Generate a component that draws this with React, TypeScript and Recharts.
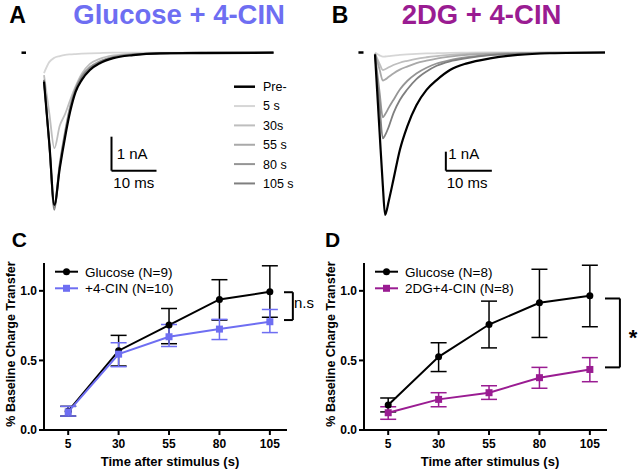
import React from "react";
import { LineChart, Line, XAxis, YAxis, ReferenceLine, ErrorBar } from "recharts";

const FONT = '"Liberation Sans", Arial, sans-serif';

// ---- panel A traces (time in ms, current in nA) ----
const timeA = [0, 1.2, 2.3, 3.5, 4.7, 5.8, 7, 8.4, 10.2, 12.4, 15.4, 19.8, 25.8, 35, 51];
const preA = [-0.85, -2.7, -4.48, -3.4, -2.47, -1.74, -1.16, -0.8, -0.51, -0.31, -0.16, -0.07, -0.02, -0.01, 0];
const s5A = [-0.6, -0.27, -0.15, -0.1, -0.065, -0.05, -0.04, -0.03, -0.02, -0.01, 0, 0, 0, 0, 0];
const s30A = [-0.66, -1.8, -2.81, -2.15, -1.8, -1.4, -1.0, -0.62, -0.33, -0.18, -0.08, -0.03, -0.01, 0, 0];
const s55A = [-0.8, -2.7, -4.45, -3.25, -2.3, -1.58, -1.05, -0.68, -0.42, -0.25, -0.12, -0.05, -0.02, 0, 0];
const s80A = [-0.8, -2.75, -4.55, -3.3, -2.35, -1.62, -1.08, -0.7, -0.44, -0.26, -0.13, -0.05, -0.02, 0, 0];
const s105A = [-0.8, -2.75, -4.62, -3.35, -2.4, -1.66, -1.1, -0.73, -0.46, -0.28, -0.14, -0.06, -0.02, 0, 0];

// ---- panel B traces ----
const timeB = [0, 1.0, 1.7, 2.2, 3, 4, 5.4, 7, 9, 11.2, 13.4, 16.3, 20, 25, 31, 38, 50];
const preB = [-0.1, -4.2, -7.0, -8.55, -7.8, -6.7, -5.13, -3.9, -2.78, -1.97, -1.45, -0.92, -0.57, -0.31, -0.13, -0.04, 0];
const s5B = [0, -0.15, -0.22, -0.21, -0.19, -0.16, -0.13, -0.1, -0.07, -0.05, -0.04, -0.02, -0.01, 0, 0, 0, 0];
const s30B = [-0.05, -0.6, -0.92, -0.88, -0.78, -0.66, -0.54, -0.44, -0.33, -0.25, -0.19, -0.13, -0.08, -0.04, -0.02, -0.01, 0];
const s55B = [-0.05, -0.9, -1.48, -1.42, -1.28, -1.1, -0.9, -0.74, -0.56, -0.43, -0.32, -0.22, -0.13, -0.07, -0.03, -0.01, 0];
const s80B = [-0.1, -2.1, -3.41, -3.25, -2.9, -2.5, -1.95, -1.5, -1.1, -0.8, -0.58, -0.4, -0.25, -0.12, -0.06, -0.02, 0];
const s105B = [-0.1, -2.8, -4.52, -4.35, -3.9, -3.2, -2.5, -1.95, -1.4, -1.0, -0.7, -0.47, -0.3, -0.14, -0.07, -0.03, 0];

const traceLabels = ["Pre-", "5 s", "30s", "55 s", "80 s", "105 s"];
const traceKeys = ["pre", "s5", "s30", "s55", "s80", "s105"];
const traceColors = ["#000000", "#d6d6d6", "#bebebe", "#a9a9a9", "#959595", "#7f7f7f"];

// ---- panels C / D: fraction of baseline charge transfer ----
const timePoints = [5, 30, 55, 80, 105];
const timeTicks = [5, 30, 55, 80, 105];
const yTicks = [0, 0.5, 1.0];

const gluC = [0.135, 0.57, 0.754, 0.938, 0.993];
const gluCLo = [0.1, 0.46, 0.62, 0.79, 0.81];
const gluCHi = [0.17, 0.68, 0.873, 1.08, 1.18];
const cinC = [0.13, 0.545, 0.67, 0.725, 0.778];
const cinCLo = [0.1, 0.455, 0.6, 0.65, 0.7];
const cinCHi = [0.17, 0.627, 0.758, 0.795, 0.866];

const gluD = [0.18, 0.526, 0.758, 0.914, 0.964];
const gluDLo = [0.13, 0.42, 0.59, 0.665, 0.742];
const gluDHi = [0.23, 0.627, 0.926, 1.155, 1.184];
const dgD = [0.124, 0.22, 0.268, 0.376, 0.435];
const dgDLo = [0.077, 0.167, 0.22, 0.3, 0.347];
const dgDHi = [0.167, 0.268, 0.318, 0.45, 0.52];

const BLUE = "#6e6ef2";
const PURPLE = "#9a1c92";

function traceRows(time: number[], series: number[][]) {
  return time.map((t, i) => {
    const row: Record<string, number> = { t };
    traceKeys.forEach((k, j) => (row[k] = series[j][i]));
    return row;
  });
}

const rowsA = traceRows(timeA, [preA, s5A, s30A, s55A, s80A, s105A]);
const rowsB = traceRows(timeB, [preB, s5B, s30B, s55B, s80B, s105B]);

function statRows(m1: number[], lo1: number[], hi1: number[], m2: number[], lo2: number[], hi2: number[]) {
  return timePoints.map((time, i) => ({
    time,
    a: m1[i],
    aErr: [m1[i] - lo1[i], hi1[i] - m1[i]],
    b: m2[i],
    bErr: [m2[i] - lo2[i], hi2[i] - m2[i]],
  }));
}

const rowsC = statRows(gluC, gluCLo, gluCHi, cinC, cinCLo, cinCHi);
const rowsD = statRows(gluD, gluDLo, gluDHi, dgD, dgDLo, dgDHi);

interface TraceProps {
  data: Record<string, number>[];
  xDomain: [number, number];
  yDomain: [number, number];
  margin: { top: number; right: number; bottom: number; left: number };
  dash: [number, number];
  bar: { t: number; i: number };
}

function TracePanel({ data, xDomain, yDomain, margin, dash, bar }: TraceProps) {
  // draw grey traces first, the pre- trace on top
  const order = [1, 2, 3, 4, 5, 0];
  return (
    <LineChart width={320} height={230} data={data} margin={margin}>
      <XAxis type="number" dataKey="t" domain={xDomain} hide />
      <YAxis type="number" domain={yDomain} hide />
      {order.map((j) => (
        <Line
          key={traceKeys[j]}
          dataKey={traceKeys[j]}
          type="monotone"
          stroke={traceColors[j]}
          strokeWidth={j === 0 ? 2.2 : 1.8}
          dot={false}
          isAnimationActive={false}
        />
      ))}
      <ReferenceLine segment={[{ x: dash[0], y: 0 }, { x: dash[1], y: 0 }]} stroke="#000" strokeWidth={2.5} />
      <ReferenceLine segment={[{ x: bar.t, y: bar.i + 1 }, { x: bar.t, y: bar.i }]} stroke="#000" strokeWidth={2} />
      <ReferenceLine segment={[{ x: bar.t, y: bar.i }, { x: bar.t + 10, y: bar.i }]} stroke="#000" strokeWidth={2} />
    </LineChart>
  );
}

const squareDot = (color: string) => (props: any) => {
  const { cx, cy, index } = props;
  if (cx == null || cy == null) return <g key={`e-${index}`} />;
  return <rect key={`sq-${index}`} x={cx - 3.5} y={cy - 3.5} width={7} height={7} fill={color} />;
};

interface StatProps {
  data: any[];
  color: string;
  bracket: { top: number; bottom: number; x0: number; x1: number };
}

function StatPanel({ data, color, bracket }: StatProps) {
  const tickStyle = { fill: "#000", fontSize: 12, fontWeight: "bold" as const, fontFamily: FONT };
  return (
    <LineChart width={320} height={241} data={data} margin={{ top: 33, right: 33, bottom: 0, left: 0 }}>
      <XAxis
        type="number"
        dataKey="time"
        domain={[-7, 113.5]}
        ticks={timeTicks}
        height={41}
        axisLine={{ stroke: "#000", strokeWidth: 2 }}
        tickLine={{ stroke: "#000", strokeWidth: 2 }}
        tickSize={5}
        tickMargin={4}
        tick={tickStyle}
      />
      <YAxis
        type="number"
        domain={[0, 1.2]}
        ticks={yTicks}
        width={44}
        axisLine={{ stroke: "#000", strokeWidth: 2 }}
        tickLine={{ stroke: "#000", strokeWidth: 2 }}
        tickSize={5}
        tickMargin={2}
        tick={tickStyle}
        tickFormatter={(v: number) => v.toFixed(1)}
      />
      <Line
        dataKey="a"
        type="linear"
        stroke="#000"
        strokeWidth={2}
        dot={{ r: 3.5, fill: "#000", stroke: "#000", strokeWidth: 0 }}
        isAnimationActive={false}
      >
        <ErrorBar dataKey="aErr" width={8} stroke="#000" strokeWidth={1.5} direction="y" isAnimationActive={false} />
      </Line>
      <Line dataKey="b" type="linear" stroke={color} strokeWidth={2} dot={squareDot(color)} isAnimationActive={false}>
        <ErrorBar dataKey="bErr" width={8} stroke={color} strokeWidth={1.5} direction="y" isAnimationActive={false} />
      </Line>
      <ReferenceLine
        segment={[{ x: bracket.x0, y: bracket.top }, { x: bracket.x1, y: bracket.top }]}
        stroke="#000"
        strokeWidth={2}
        ifOverflow="visible"
      />
      <ReferenceLine
        segment={[{ x: bracket.x1, y: bracket.top }, { x: bracket.x1, y: bracket.bottom }]}
        stroke="#000"
        strokeWidth={2}
        ifOverflow="visible"
      />
      <ReferenceLine
        segment={[{ x: bracket.x0, y: bracket.bottom }, { x: bracket.x1, y: bracket.bottom }]}
        stroke="#000"
        strokeWidth={2}
        ifOverflow="visible"
      />
    </LineChart>
  );
}

function StatLegend({ dx, labels, color }: { dx: number; labels: string[]; color: string }) {
  const rows = [271.7, 288.3];
  return (
    <g>
      {labels.map((label, i) => {
        const c = i === 0 ? "#000" : color;
        const y = rows[i];
        return (
          <g key={label}>
            <line x1={dx + 55} x2={dx + 78} y1={y} y2={y} stroke={c} strokeWidth={2} />
            {i === 0 ? (
              <circle cx={dx + 66.5} cy={y} r={3.5} fill={c} />
            ) : (
              <rect x={dx + 63} y={y - 3.5} width={7} height={7} fill={c} />
            )}
            <text x={dx + 85} y={y + 4.8} fontSize={13.5} fill="#000">
              {label}
            </text>
          </g>
        );
      })}
    </g>
  );
}

export default function App() {
  return (
    <div style={{ position: "absolute", left: 0, top: 0, width: 640, height: 471, background: "#fff", fontFamily: FONT }}>
      <div style={{ position: "absolute", left: 0, top: 0 }}>
        <TracePanel
          data={rowsA}
          xDomain={[-9, 60]}
          yDomain={[-5, 0.5]}
          margin={{ top: 35.7, right: 6, bottom: 7.3, left: 3.5 }}
          dash={[-5, -4]}
          bar={{ t: 15, i: -3.47 }}
        />
      </div>
      <div style={{ position: "absolute", left: 320, top: 0 }}>
        <TracePanel
          data={rowsB}
          xDomain={[-5, 55]}
          yDomain={[-9, 1]}
          margin={{ top: 33.5, right: 12, bottom: 6.5, left: 32 }}
          dash={[-3.6, -2.5]}
          bar={{ t: 15.4, i: -6.22 }}
        />
      </div>
      <div style={{ position: "absolute", left: 0, top: 230 }}>
        <StatPanel data={rowsC} color={BLUE} bracket={{ top: 0.99, bottom: 0.79, x0: 112, x1: 116.4 }} />
      </div>
      <div style={{ position: "absolute", left: 320, top: 230 }}>
        <StatPanel data={rowsD} color={PURPLE} bracket={{ top: 0.945, bottom: 0.45, x0: 112.5, x1: 119.9 }} />
      </div>
      <svg
        width={640}
        height={471}
        style={{ position: "absolute", left: 0, top: 0, pointerEvents: "none" }}
        fontFamily={FONT}
      >
        <text x={9.3} y={23.3} fontSize={23} fontWeight="bold">A</text>
        <text x={73.3} y={23.5} fontSize={27.5} fontWeight="bold" fill={BLUE}>Glucose + 4-CIN</text>
        <text x={331.7} y={23.3} fontSize={23} fontWeight="bold">B</text>
        <text x={401.7} y={23.5} fontSize={27.5} fontWeight="bold" fill={PURPLE}>2DG + 4-CIN</text>
        <text x={11.7} y={246.7} fontSize={21} fontWeight="bold">C</text>
        <text x={325} y={246.5} fontSize={21} fontWeight="bold">D</text>

        {traceLabels.map((label, i) => {
          const y = 86.7 + 19.35 * i;
          return (
            <g key={label}>
              <line x1={234} x2={255} y1={y} y2={y} stroke={traceColors[i]} strokeWidth={i === 0 ? 2.5 : 2} />
              <text x={263} y={y + 4.4} fontSize={12.5}>{label}</text>
            </g>
          );
        })}

        <text x={116.7} y={159.3} fontSize={15}>1 nA</text>
        <text x={113.3} y={188.3} fontSize={15}>10 ms</text>
        <text x={448.3} y={159.3} fontSize={15}>1 nA</text>
        <text x={446.7} y={188.3} fontSize={15}>10 ms</text>

        <StatLegend dx={0} labels={["Glucose (N=9)", "+4-CIN (N=10)"]} color={BLUE} />
        <StatLegend dx={320} labels={["Glucose (N=8)", "2DG+4-CIN (N=8)"]} color={PURPLE} />

        {[0, 320].map((dx) => (
          <g key={dx}>
            <text
              transform={`translate(${dx + 15},344) rotate(-90)`}
              textAnchor="middle"
              fontSize={12.5}
              fontWeight="bold"
            >
              % Baseline Charge Transfer
            </text>
            <text x={dx + 170} y={465.7} textAnchor="middle" fontSize={13} fontWeight="bold">
              Time after stimulus (s)
            </text>
          </g>
        ))}

        <text x={294} y={308} fontSize={15}>n.s</text>
        <text x={633} y={345} textAnchor="middle" fontSize={22} fontWeight="bold">*</text>
      </svg>
    </div>
  );
}
